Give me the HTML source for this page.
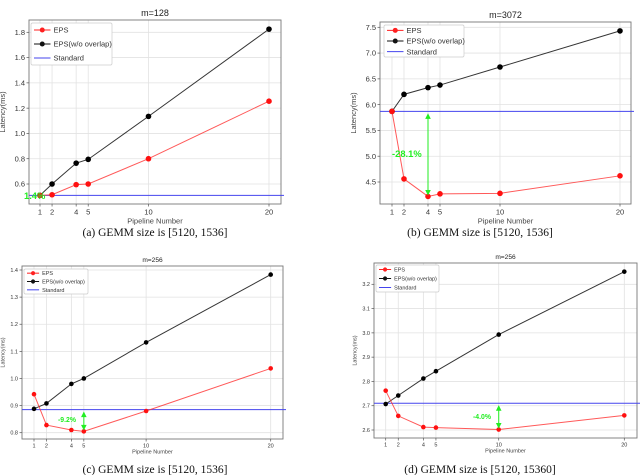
<!DOCTYPE html>
<html><head><meta charset="utf-8"><style>
html,body{margin:0;padding:0;background:#fff;}
svg{display:block;font-family:"Liberation Sans",sans-serif;}
.cap{font-family:"Liberation Serif",serif;}
</style></head><body>
<svg id="fig" width="640" height="475" viewBox="0 0 640 475" xmlns="http://www.w3.org/2000/svg"></svg>
<script>
const pipelineNumbers = [1, 2, 4, 5, 10, 20];
const epsA = [0.51, 0.515, 0.595, 0.60, 0.80, 1.255];
const noOverlapA = [0.51, 0.60, 0.765, 0.795, 1.135, 1.825];
const standardA = 0.51;
const yTicksA = [0.6, 0.8, 1.0, 1.2, 1.4, 1.6, 1.8];
const epsB = [5.87, 4.56, 4.22, 4.27, 4.28, 4.62];
const noOverlapB = [5.87, 6.2, 6.33, 6.38, 6.73, 7.43];
const standardB = 5.87;
const yTicksB = [4.5, 5.0, 5.5, 6.0, 6.5, 7.0, 7.5];
const epsC = [0.942, 0.828, 0.81, 0.805, 0.88, 1.037];
const noOverlapC = [0.888, 0.908, 0.98, 1.0, 1.133, 1.383];
const standardC = 0.885;
const yTicksC = [0.8, 0.9, 1.0, 1.1, 1.2, 1.3, 1.4];
const epsD = [2.762, 2.658, 2.612, 2.61, 2.602, 2.66];
const noOverlapD = [2.707, 2.742, 2.812, 2.842, 2.993, 3.252];
const standardD = 2.71;
const yTicksD = [2.6, 2.7, 2.8, 2.9, 3.0, 3.1, 3.2];

const NS = "http://www.w3.org/2000/svg";
const svg = document.getElementById('fig');
function mk(tag, attrs, parent, text) {
  const e = document.createElementNS(NS, tag);
  for (const k in attrs) e.setAttribute(k, attrs[k]);
  if (text !== undefined) e.textContent = text;
  (parent || svg).appendChild(e);
  return e;
}

const panels = [
  {id:'a', title:'m=128', cap:'(a) GEMM size is [5120, 1536]', capY:236, capX:155,
   box:[29,20,281,204], x1:40, x20:269, yv:[0.6,1.8], yp:[184,32.3],
   eps:epsA, nov:noOverlapA, std:standardA, ticks:yTicksA, fmt:1, fs:7.5,
   leg:[31,23,81,42], arrow:null, label:{t:'1.4%', x:24, y:199}},
  {id:'b', title:'m=3072', cap:'(b) GEMM size is [5120, 1536]', capY:236, capX:480,
   box:[380,22,631,204], x1:392, x20:620, yv:[4.5,7.5], yp:[182,27.3],
   eps:epsB, nov:noOverlapB, std:standardB, ticks:yTicksB, fmt:1, fs:7.5,
   leg:[384,25,80,32], arrow:{i:2}, label:{t:'-28.1%', x:392, y:157}},
  {id:'c', title:'m=256', cap:'(c) GEMM size is [5120, 1536]', capY:473, capX:155,
   box:[22,266,283,439], x1:34, x20:270.7, yv:[0.8,1.4], yp:[432.7,270],
   eps:epsC, nov:noOverlapC, std:standardC, ticks:yTicksC, fmt:1, fs:5.5,
   leg:[24,269,64,25], arrow:{i:3}, label:{t:'-9.2%', x:58, y:422}},
  {id:'d', title:'m=256', cap:'(d) GEMM size is [5120, 15360]', capY:473, capX:480,
   box:[374,263,637,438], x1:385.7, x20:624.3, yv:[2.6,3.2], yp:[430,284.3],
   eps:epsD, nov:noOverlapD, std:standardD, ticks:yTicksD, fmt:1, fs:5.5,
   leg:[376,265,63,27], arrow:{i:4}, label:{t:'-4.0%', x:473, y:419}}
];

panels.forEach(p => {
  const g = mk('g', {});
  
  
  const [L,T,R,B] = p.box;
  const xs = v => p.x1 + (v - 1) * (p.x20 - p.x1) / 19;
  const ys = v => p.yp[0] + (v - p.yv[0]) * (p.yp[1] - p.yp[0]) / (p.yv[1] - p.yv[0]);
  pipelineNumbers.forEach(n => {
    const l = mk('line', {x1:xs(n), x2:xs(n), y1:T, y2:B, stroke:'#e2e2e2', 'stroke-width':0.8}, g);
    
    
  });
  p.ticks.forEach(v => {
    const l = mk('line', {x1:L, x2:R, y1:ys(v), y2:ys(v), stroke:'#e2e2e2', 'stroke-width':0.8}, g);
    
    
  });
  const frame = mk('rect', {x:L, y:T, width:R-L, height:B-T, fill:'none', stroke:'#777', 'stroke-width':0.9}, g);
  
  
  pipelineNumbers.forEach(n => {
    mk('line', {x1:xs(n), x2:xs(n), y1:B, y2:B+2.5, stroke:'#555', 'stroke-width':0.7}, g);
    const t = mk('text', {x:xs(n), y:B+3+p.fs, 'font-size':p.fs, 'text-anchor':'middle', fill:'#333'}, g, String(n));
    
    
  });
  p.ticks.forEach(v => {
    mk('line', {x1:L-2.5, x2:L, y1:ys(v), y2:ys(v), stroke:'#555', 'stroke-width':0.7}, g);
    const t = mk('text', {x:L-4, y:ys(v)+p.fs*0.35, 'font-size':p.fs, 'text-anchor':'end', fill:'#333'}, g, v.toFixed(p.fmt));
    
    
  });
  const xt = mk('text', {x:(L+R)/2, y:B+p.fs*2.6, 'font-size':p.fs, 'text-anchor':'middle', fill:'#444'}, g, 'Pipeline Number');
  
  
  const yx = L - p.fs*3.2, yy = (T+B)/2;
  const yt = mk('text', {x:yx, y:yy, 'font-size':p.fs, 'text-anchor':'middle', fill:'#444', transform:`rotate(-90 ${yx} ${yy})`}, g, 'Latency(ms)');
  
  
  const tt = mk('text', {x:(L+R)/2, y:T-4, 'font-size':p.fs*1.2, 'text-anchor':'middle', fill:'#222'}, g, p.title);
  
  
  const sl = mk('line', {x1:L, x2:R+3, y1:ys(p.std), y2:ys(p.std), stroke:'#4545ee', 'stroke-width':1}, g);
  
  
  const r = p.fs < 7 ? 2.3 : 2.8;
  [[p.nov,'#111','no-overlap'],[p.eps,'#ff3030','eps']].forEach(([vals,col,nm]) => {
    const pts = vals.map((v,i) => xs(pipelineNumbers[i]) + ',' + ys(v)).join(' ');
    const pl = mk('polyline', {points:pts, fill:'none', stroke:col, 'stroke-width':1, opacity:nm==='eps'?0.8:0.85}, g);
    
    
    vals.forEach((v,i) => {
      const c = mk('circle', {cx:xs(pipelineNumbers[i]), cy:ys(v), r:r, fill:nm==='eps'?'#ff1010':'#000'}, g);
      
      
    });
  });
  if (p.arrow) {
    const ax = xs(pipelineNumbers[p.arrow.i]);
    const y1 = ys(p.std) + 3, y2 = ys(p.eps[p.arrow.i]) - 2;
    const ag = mk('g', {stroke:'#22ee22', fill:'#22ee22', 'stroke-width':1}, g);
    
    
    mk('line', {x1:ax, x2:ax, y1:y1, y2:y2}, ag);
    mk('polygon', {points:`${ax-2},${y1+4} ${ax+2},${y1+4} ${ax},${y1}`}, ag);
    mk('polygon', {points:`${ax-2},${y2-4} ${ax+2},${y2-4} ${ax},${y2}`}, ag);
  }
  const lb = mk('text', {x:p.label.x, y:p.label.y, 'font-size':p.fs*1.25, 'font-weight':'bold', fill:'#22ee22'}, g, p.label.t);
  
  
  const [lx,ly,lw,lh] = p.leg;
  const lg = mk('g', {}, g);
  
  
  mk('rect', {x:lx, y:ly, width:lw, height:lh, fill:'#fff', stroke:'#ccc', 'stroke-width':0.7, rx:1.5}, lg);
  const items = [['EPS','#ff2020',true],['EPS(w/o overlap)','#111',true],['Standard','#4545ee',false]];
  const step = lh/3;
  items.forEach((it,k) => {
    const cy = ly + step*(k+0.5);
    const e = mk('g', {}, lg);
    
    
    mk('line', {x1:lx+3, x2:lx+3+p.fs*2.2, y1:cy, y2:cy, stroke:it[1], 'stroke-width':1}, e);
    if (it[2]) mk('circle', {cx:lx+3+p.fs*1.1, cy:cy, r:r*0.9, fill:it[1]}, e);
    mk('text', {x:lx+6+p.fs*2.2, y:cy+p.fs*0.35, 'font-size':p.fs, fill:'#333'}, e, it[0]);
  });
  const cp = mk('text', {x:p.capX, y:p.capY, 'font-size':11.5, 'text-anchor':'middle', fill:'#111', class:'cap'}, g, p.cap);
  
  
});
</script>
</body></html>
